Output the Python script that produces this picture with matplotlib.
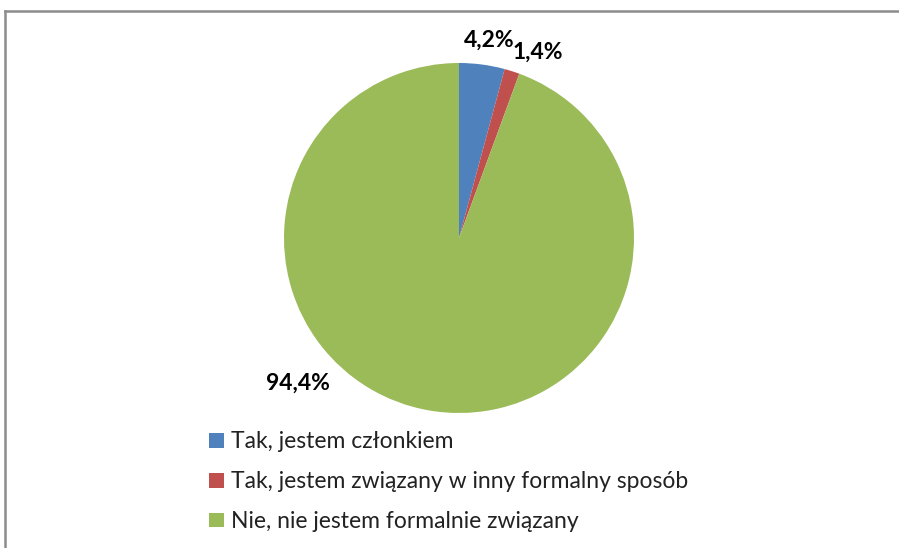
import matplotlib
matplotlib.use("Agg")
import matplotlib.pyplot as plt
from matplotlib.lines import Line2D
from matplotlib.patches import Patch

labels = ["Tak, jestem członkiem",
          "Tak, jestem związany w inny formalny sposób",
          "Nie, nie jestem formalnie związany"]
values = [4.2, 1.4, 94.4]
colors = ["#4F81BD", "#C0504D", "#9BBB59"]
pct_text = ["4,2%", "1,4%", "94,4%"]
# label positions in pie units (radius = 1)
label_pos = [(0.17, 1.13), (0.45, 1.06), (-0.92, -0.83)]

W, H = 899, 548
fig = plt.figure(figsize=(W / 100, H / 100), dpi=100)

# pie: centre (459, 238) px, radius 175 px
cx, cy, r = 459, 238, 175
ax = fig.add_axes([(cx - r) / W, (H - cy - r) / H, 2 * r / W, 2 * r / H])
ax.pie(values, colors=colors, startangle=90, counterclock=False, radius=1,
       wedgeprops=dict(linewidth=0))
ax.set_xlim(-1, 1)
ax.set_ylim(-1, 1)
ax.set_aspect("auto")
for t, (x, y) in zip(pct_text, label_pos):
    ax.text(x, y, t, ha="center", va="center", fontsize=16.5,
            fontweight="bold", family="Lato", clip_on=False)

handles = [Patch(facecolor=c, edgecolor="none") for c in colors]
fig.legend(handles, labels, loc="upper left",
           bbox_to_anchor=(198 / W, 1 - 420 / H), frameon=False,
           prop=dict(family="Lato", size=16.5), handlelength=0.62,
           handleheight=0.62, handletextpad=0.3, labelspacing=0.82,
           borderpad=0, labelcolor="#222222")

# chart frame (only top and left edges visible)
fig.add_artist(Line2D([5 / W, 1], [1 - 11 / H, 1 - 11 / H], color="#8c8c8c", lw=1.8))
fig.add_artist(Line2D([5 / W, 5 / W], [0, 1 - 11 / H], color="#8c8c8c", lw=1.8))

fig.savefig("out.png", dpi=100)
